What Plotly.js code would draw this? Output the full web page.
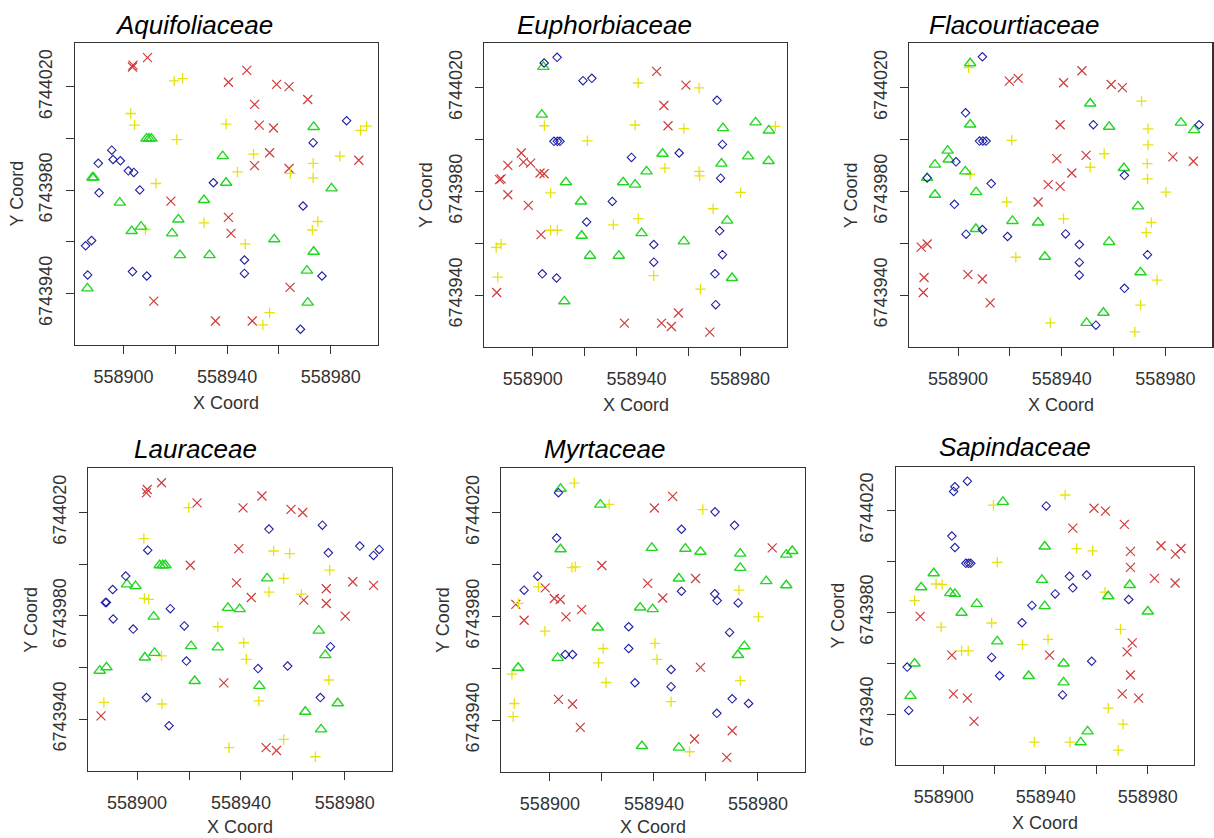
<!DOCTYPE html>
<html>
<head>
<meta charset="utf-8">
<script src="https://cdn.plot.ly/plotly-3.0.1.min.js"></script>
<style>html,body{margin:0;padding:0;background:#fff;}#chart{width:1214px;height:838px;}</style>
</head>
<body>
<div id="chart"></div>
<script>
// ---------------- DATA ----------------
const families = ["Aquifoliaceae", "Euphorbiaceae", "Flacourtiaceae", "Lauraceae", "Myrtaceae", "Sapindaceae"];
const xTickVals = [558900, 558920, 558940, 558960, 558980];
const xTickText = ["558900", "", "558940", "", "558980"];
const yTickVals = [6743940, 6743960, 6743980, 6744000, 6744020];
const yTickText = ["6743940", "", "6743980", "", "6744020"];

// Aquifoliaceae
const aqu_red_x = [558903.7, 558903.5, 558909.3, 558940.5, 558947.6, 558959.1, 558963.9, 558971.1, 558950.6, 558952.4, 558957.9, 558956.4, 558950.6, 558963.9, 558990.8, 558918.3, 558940.5, 558941.5, 558964.3, 558911.7, 558935.5, 558949.7];
const aqu_red_y = [6744028.4, 6744027.7, 6744031.3, 6744021.8, 6744026.4, 6744021.0, 6744020.1, 6744015.1, 6744013.2, 6744005.2, 6744004.1, 6743994.5, 6743989.5, 6743988.4, 6743991.6, 6743975.8, 6743969.5, 6743963.3, 6743942.4, 6743937.1, 6743929.4, 6743929.4];
const aqu_yel_x = [558919.6, 558922.8, 558902.8, 558904.3, 558939.6, 558920.6, 558950.2, 558944.0, 558973.2, 558973.2, 558964.4, 558983.5, 558991.5, 558993.8, 558912.5, 558931.1, 558908.5, 558975.0, 558972.9, 558947.0, 558956.4, 558953.8];
const aqu_yel_y = [6744022.3, 6744023.2, 6744009.7, 6744005.2, 6744005.6, 6743999.6, 6743994.0, 6743987.1, 6743990.4, 6743984.8, 6743986.5, 6743993.2, 6744003.2, 6744004.8, 6743982.6, 6743967.4, 6743964.8, 6743967.9, 6743964.6, 6743959.2, 6743932.6, 6743927.9];
const aqu_grn_x = [558973.4, 558908.9, 558909.9, 558910.8, 558938.3, 558939.6, 558888.0, 558888.5, 558931.1, 558898.6, 558980.3, 558921.2, 558906.8, 558903.2, 558918.8, 558958.2, 558921.8, 558933.2, 558973.4, 558970.8, 558886.1, 558971.1];
const aqu_grn_y = [6744004.5, 6744000.0, 6744000.0, 6744000.0, 6743993.2, 6743982.9, 6743984.9, 6743984.9, 6743976.2, 6743975.2, 6743980.7, 6743968.7, 6743965.9, 6743964.2, 6743963.3, 6743961.0, 6743954.9, 6743954.9, 6743956.2, 6743948.9, 6743942.0, 6743936.5];
const aqu_blu_x = [558986.1, 558973.2, 558895.5, 558896.0, 558898.8, 558890.3, 558901.9, 558904.0, 558934.7, 558906.3, 558890.6, 558969.3, 558885.4, 558887.7, 558946.7, 558886.2, 558903.5, 558909.0, 558946.7, 558976.6, 558968.3];
const aqu_blu_y = [6744006.9, 6743998.4, 6743995.5, 6743991.9, 6743991.4, 6743990.4, 6743987.5, 6743986.9, 6743982.9, 6743980.1, 6743979.0, 6743973.9, 6743958.5, 6743960.5, 6743953.0, 6743947.2, 6743948.5, 6743946.8, 6743947.8, 6743946.8, 6743926.2];

// Euphorbiaceae
const eup_red_x = [558947.8, 558959.1, 558950.6, 558952.2, 558895.6, 558890.4, 558896.4, 558899.2, 558902.8, 558904.4, 558887.8, 558887.2, 558890.4, 558898.3, 558903.2, 558886.1, 558935.4, 558949.7, 558953.5, 558956.2, 558968.3];
const eup_red_y = [6744026.3, 6744021.0, 6744013.1, 6744005.3, 6743994.8, 6743990.0, 6743991.3, 6743990.9, 6743987.1, 6743986.8, 6743984.8, 6743984.5, 6743978.7, 6743974.6, 6743963.3, 6743941.0, 6743929.2, 6743929.2, 6743927.9, 6743933.1, 6743925.7];
const eup_yel_x = [558940.7, 558964.2, 558904.5, 558939.5, 558958.3, 558993.6, 558921.1, 558951.0, 558964.2, 558964.4, 558906.9, 558980.2, 558969.6, 558940.7, 558931.1, 558906.9, 558909.5, 558885.9, 558887.8, 558886.5, 558946.7, 558964.7];
const eup_yel_y = [6744021.8, 6744019.9, 6744005.3, 6744005.6, 6744004.2, 6744005.1, 6743999.5, 6743989.0, 6743987.7, 6743986.0, 6743979.4, 6743979.6, 6743973.3, 6743969.5, 6743967.1, 6743965.0, 6743965.0, 6743958.4, 6743959.7, 6743946.9, 6743947.5, 6743942.3];
const eup_grn_x = [558904.1, 558903.5, 558986.0, 558973.4, 558991.1, 558950.1, 558983.1, 558972.8, 558991.0, 558943.9, 558912.8, 558934.9, 558939.5, 558918.6, 558975.0, 558918.9, 558942.0, 558958.3, 558922.1, 558933.2, 558976.9, 558912.2];
const eup_grn_y = [6744028.0, 6744009.6, 6744006.6, 6744004.4, 6744003.5, 6743994.5, 6743993.5, 6743990.7, 6743991.7, 6743987.7, 6743983.5, 6743983.5, 6743982.6, 6743976.1, 6743968.7, 6743962.9, 6743963.9, 6743960.7, 6743955.2, 6743955.2, 6743946.6, 6743937.6];
const eup_blu_x = [558904.4, 558909.4, 558919.4, 558922.8, 558971.1, 558908.2, 558909.5, 558910.5, 558938.1, 558956.5, 558973.2, 558972.5, 558930.7, 558920.8, 558972.1, 558946.7, 558973.2, 558946.7, 558903.7, 558909.2, 558970.3, 558970.6];
const eup_blu_y = [6744029.5, 6744031.7, 6744022.7, 6744023.6, 6744015.1, 6743999.3, 6743999.3, 6743999.3, 6743993.1, 6743994.8, 6743998.1, 6743985.1, 6743976.1, 6743968.2, 6743964.8, 6743959.5, 6743955.6, 6743952.7, 6743948.2, 6743946.6, 6743948.2, 6743936.3];

// Flacourtiaceae
const fla_red_x = [558947.8, 558919.8, 558923.2, 558940.7, 558959.1, 558963.4, 558939.4, 558949.4, 558938.1, 558943.9, 558934.8, 558939.4, 558930.9, 558982.9, 558990.8, 558885.8, 558888.1, 558886.9, 558886.6, 558903.8, 558909.4, 558912.4];
const fla_red_y = [6744026.5, 6744022.5, 6744023.6, 6744021.9, 6744021.2, 6744020.0, 6744005.7, 6743993.9, 6743992.6, 6743987.1, 6743982.6, 6743981.9, 6743975.9, 6743993.3, 6743991.6, 6743958.5, 6743959.7, 6743946.8, 6743941.0, 6743947.9, 6743946.2, 6743937.0];
const fla_yel_x = [558904.1, 558970.8, 558973.3, 558973.3, 558920.7, 558956.4, 558951.0, 558973.0, 558973.1, 558904.7, 558980.2, 558918.8, 558940.7, 558974.6, 558972.6, 558922.3, 558976.8, 558970.4, 558935.6, 558968.2];
const fla_yel_y = [6744027.7, 6744014.8, 6744004.1, 6743997.9, 6743999.7, 6743994.5, 6743989.3, 6743990.7, 6743984.8, 6743986.5, 6743979.7, 6743975.9, 6743969.4, 6743968.0, 6743964.1, 6743954.6, 6743945.8, 6743936.1, 6743929.3, 6743925.8];
const fla_grn_x = [558904.7, 558951.0, 558904.7, 558958.3, 558986.0, 558991.1, 558896.0, 558896.4, 558891.1, 558902.8, 558964.0, 558888.1, 558907.0, 558891.1, 558969.4, 558921.0, 558930.9, 558906.9, 558958.3, 558933.5, 558970.4, 558956.1, 558949.6];
const fla_grn_y = [6744029.4, 6744013.9, 6744005.8, 6744004.9, 6744006.5, 6744003.6, 6743995.7, 6743992.3, 6743990.3, 6743987.7, 6743989.0, 6743985.2, 6743979.7, 6743978.7, 6743974.2, 6743968.6, 6743968.0, 6743965.5, 6743960.5, 6743954.8, 6743948.8, 6743933.2, 6743929.3];
const fla_blu_x = [558909.4, 558902.9, 558952.2, 558993.0, 558908.3, 558909.6, 558910.8, 558899.2, 558888.1, 558964.2, 558912.8, 558898.6, 558903.1, 558909.4, 558919.1, 558941.5, 558946.8, 558973.1, 558946.8, 558946.8, 558964.2, 558953.2];
const fla_blu_y = [6744031.9, 6744010.3, 6744005.7, 6744005.7, 6743999.4, 6743999.4, 6743999.4, 6743991.4, 6743985.2, 6743986.2, 6743983.0, 6743975.0, 6743963.5, 6743965.3, 6743962.6, 6743963.6, 6743959.5, 6743955.6, 6743952.6, 6743947.7, 6743942.6, 6743928.4];

// Lauraceae
const lau_red_x = [558903.9, 558903.6, 558909.4, 558923.1, 558940.8, 558948.1, 558959.3, 558963.8, 558939.2, 558920.5, 558938.3, 558944.0, 558964.2, 558972.9, 558972.9, 558983.1, 558991.1, 558980.2, 558933.4, 558886.1, 558949.7, 558953.7];
const lau_red_y = [6744028.9, 6744027.6, 6744031.5, 6744023.7, 6744021.8, 6744026.4, 6744021.2, 6744020.0, 6744006.0, 6743999.6, 6743992.8, 6743987.1, 6743986.1, 6743990.5, 6743984.8, 6743993.2, 6743991.8, 6743979.9, 6743954.1, 6743941.3, 6743929.0, 6743927.9];
const lau_yel_x = [558919.9, 558902.6, 558952.6, 558958.8, 558974.2, 558956.5, 558950.8, 558963.3, 558902.8, 558904.5, 558931.1, 558941.1, 558942.1, 558909.4, 558973.9, 558946.9, 558909.6, 558887.2, 558956.5, 558935.4, 558968.7];
const lau_yel_y = [6744021.9, 6744009.9, 6744005.1, 6744004.1, 6743997.7, 6743994.5, 6743989.2, 6743988.4, 6743986.8, 6743986.4, 6743975.8, 6743969.6, 6743963.2, 6743964.5, 6743955.2, 6743947.1, 6743945.9, 6743946.5, 6743932.2, 6743929.0, 6743925.5];
const lau_grn_x = [558908.7, 558909.9, 558910.9, 558896.1, 558899.4, 558950.1, 558935.0, 558939.5, 558906.4, 558970.0, 558920.8, 558931.1, 558972.5, 558903.0, 558906.7, 558885.6, 558888.2, 558922.2, 558947.1, 558977.3, 558964.8, 558970.9];
const lau_grn_y = [6743999.6, 6743999.6, 6743999.6, 6743992.2, 6743991.5, 6743994.5, 6743983.1, 6743982.6, 6743979.7, 6743974.3, 6743968.3, 6743967.8, 6743964.8, 6743963.9, 6743965.7, 6743958.8, 6743960.1, 6743954.8, 6743952.9, 6743946.2, 6743942.9, 6743936.1];
const lau_blu_x = [558971.4, 558950.8, 558904.1, 558973.7, 558985.8, 558991.1, 558993.3, 558895.6, 558890.6, 558887.8, 558888.2, 558912.8, 558890.8, 558898.5, 558918.2, 558974.5, 558919.0, 558946.6, 558958.0, 558903.6, 558970.6, 558912.3];
const lau_blu_y = [6744015.1, 6744013.6, 6744005.4, 6744004.4, 6744007.0, 6744003.4, 6744005.7, 6743995.4, 6743990.2, 6743985.2, 6743985.2, 6743982.8, 6743978.8, 6743974.9, 6743976.1, 6743968.1, 6743962.5, 6743959.6, 6743960.6, 6743948.4, 6743948.4, 6743937.5];

// Myrtaceae
const myr_red_x = [558947.2, 558940.2, 558920.0, 558985.5, 558937.6, 558956.0, 558943.4, 558898.2, 558901.7, 558904.0, 558886.9, 558890.1, 558906.2, 558912.2, 558957.9, 558903.3, 558908.7, 558911.7, 558970.1, 558955.6, 558968.0];
const myr_red_y = [6744026.3, 6744021.8, 6743999.6, 6744006.4, 6743992.7, 6743994.6, 6743987.1, 6743991.0, 6743986.9, 6743986.5, 6743984.6, 6743978.5, 6743979.8, 6743982.6, 6743960.3, 6743948.0, 6743946.2, 6743937.2, 6743935.9, 6743932.7, 6743925.6];
const myr_yel_x = [558909.4, 558922.8, 558958.8, 558908.5, 558909.8, 558895.6, 558887.9, 558972.7, 558980.2, 558898.1, 558940.4, 558920.5, 558941.2, 558918.7, 558921.6, 558973.2, 558885.4, 558886.3, 558885.9, 558946.6, 558953.7];
const myr_yel_y = [6744031.4, 6744023.2, 6744021.2, 6743998.8, 6743999.1, 6743991.4, 6743985.0, 6743990.1, 6743979.8, 6743974.3, 6743969.6, 6743967.6, 6743963.4, 6743962.1, 6743954.5, 6743955.2, 6743957.7, 6743946.4, 6743941.3, 6743947.1, 6743927.8];
const myr_grn_x = [558904.1, 558919.4, 558904.1, 558939.2, 558952.1, 558957.9, 558973.2, 558973.2, 558990.9, 558993.2, 558949.6, 558983.2, 558990.9, 558934.7, 558939.5, 558918.4, 558974.8, 558972.3, 558903.0, 558887.8, 558935.4, 558949.6];
const myr_grn_y = [6744029.2, 6744023.1, 6744005.9, 6744006.4, 6744006.1, 6744004.9, 6744004.2, 6743998.7, 6744003.8, 6744005.2, 6743994.6, 6743993.6, 6743992.0, 6743983.4, 6743982.8, 6743975.7, 6743968.5, 6743965.1, 6743964.0, 6743960.2, 6743930.0, 6743929.4];
const myr_blu_x = [558903.3, 558963.5, 558971.0, 558950.6, 558902.6, 558895.3, 558890.1, 558950.6, 558963.4, 558964.3, 558972.4, 558930.3, 558969.1, 558930.3, 558905.9, 558908.7, 558946.6, 558932.7, 558946.6, 558970.1, 558976.4, 558964.2];
const myr_blu_y = [6744027.7, 6744020.3, 6744015.1, 6744013.6, 6744010.2, 6743995.5, 6743990.1, 6743989.7, 6743988.7, 6743986.1, 6743985.2, 6743976.0, 6743973.8, 6743967.6, 6743965.3, 6743965.3, 6743959.5, 6743954.4, 6743952.9, 6743948.2, 6743946.4, 6743942.6];

// Sapindaceae
const sap_red_x = [558958.9, 558963.4, 558970.8, 558950.6, 558985.2, 558990.8, 558993.0, 558973.2, 558973.2, 558982.6, 558990.7, 558890.8, 558903.2, 558941.5, 558973.9, 558971.9, 558973.2, 558970.0, 558976.4, 558903.8, 558909.3, 558911.9];
const sap_red_y = [6744020.8, 6744019.7, 6744014.5, 6744013.0, 6744006.1, 6744002.8, 6744005.0, 6744003.9, 6743997.6, 6743993.3, 6743991.5, 6743978.4, 6743963.2, 6743963.2, 6743968.0, 6743964.5, 6743955.4, 6743948.0, 6743946.3, 6743948.0, 6743946.3, 6743937.2];
const sap_yel_x = [558947.6, 558919.5, 558952.1, 558958.4, 558921.0, 558897.0, 558899.4, 558888.6, 558963.2, 558918.8, 558899.0, 558969.3, 558940.9, 558930.9, 558907.0, 558909.6, 558964.5, 558970.3, 558935.5, 558949.5, 558968.4];
const sap_yel_y = [6744026.0, 6744022.0, 6744005.0, 6744004.1, 6743999.6, 6743991.1, 6743990.9, 6743984.6, 6743987.9, 6743975.8, 6743974.2, 6743973.3, 6743969.4, 6743967.3, 6743964.9, 6743964.9, 6743942.4, 6743936.1, 6743929.1, 6743929.1, 6743925.9];
const sap_grn_x = [558923.2, 558939.6, 558896.1, 558891.2, 558902.6, 558904.4, 558938.5, 558972.9, 558964.5, 558913.0, 558939.6, 558907.0, 558980.0, 558921.0, 558888.6, 558947.0, 558933.3, 558947.0, 558887.0, 558956.4, 558953.7];
const sap_grn_y = [6744023.3, 6744005.8, 6743995.3, 6743989.8, 6743987.5, 6743987.2, 6743992.7, 6743990.7, 6743986.3, 6743983.3, 6743982.4, 6743979.8, 6743980.3, 6743968.6, 6743959.9, 6743959.9, 6743955.0, 6743952.5, 6743947.2, 6743933.3, 6743929.0];
const sap_blu_x = [558909.3, 558904.4, 558903.9, 558940.2, 558903.2, 558904.4, 558908.7, 558909.7, 558910.6, 558949.3, 558956.0, 558950.6, 558943.7, 558934.6, 558972.5, 558930.7, 558918.8, 558921.9, 558958.0, 558946.6, 558885.7, 558886.3];
const sap_blu_y = [6744031.4, 6744029.2, 6744027.4, 6744021.7, 6744009.9, 6744005.4, 6743999.2, 6743999.2, 6743999.2, 6743994.1, 6743994.6, 6743989.6, 6743987.2, 6743982.7, 6743985.0, 6743975.9, 6743962.3, 6743955.1, 6743960.8, 6743947.6, 6743958.5, 6743941.5];

// ---------------- BUILD ----------------
const W = 1214, H = 838;
// plot boxes in page pixels: [left, top, right, bottom]
const boxes = [
  [74.7, 42.7, 377.7, 345.0],
  [484.0, 43.3, 787.0, 346.7],
  [909.3, 43.3, 1212.3, 346.7],
  [88.3, 468.3, 391.7, 770.7],
  [501.0, 468.3, 805.0, 771.7],
  [895.7, 466.7, 1194.0, 765.0]
];
const titleCenters = [[194, 25], [604, 25], [1014, 25], [195, 449], [604, 449], [1015, 447]];

const groups = [
  [aqu_red_x, aqu_red_y, aqu_yel_x, aqu_yel_y, aqu_grn_x, aqu_grn_y, aqu_blu_x, aqu_blu_y],
  [eup_red_x, eup_red_y, eup_yel_x, eup_yel_y, eup_grn_x, eup_grn_y, eup_blu_x, eup_blu_y],
  [fla_red_x, fla_red_y, fla_yel_x, fla_yel_y, fla_grn_x, fla_grn_y, fla_blu_x, fla_blu_y],
  [lau_red_x, lau_red_y, lau_yel_x, lau_yel_y, lau_grn_x, lau_grn_y, lau_blu_x, lau_blu_y],
  [myr_red_x, myr_red_y, myr_yel_x, myr_yel_y, myr_grn_x, myr_grn_y, myr_blu_x, myr_blu_y],
  [sap_red_x, sap_red_y, sap_yel_x, sap_yel_y, sap_grn_x, sap_grn_y, sap_blu_x, sap_blu_y]
];
const styles = [
  {symbol: "x-thin-open", size: 9, color: "#cf3c3c", width: 1.2},
  {symbol: "cross-thin-open", size: 7.5, color: "#e6e410", width: 1.3},
  {symbol: "triangle-up-open", size: 10, color: "#22d622", width: 1.4},
  {symbol: "diamond-open", size: 6.5, color: "#2020a6", width: 1.1}
];

const FONT = "'Liberation Sans', Arial, 'DejaVu Sans', sans-serif";
const data = [];
const layout = {
  width: W, height: H,
  margin: {l: 0, r: 0, t: 0, b: 0},
  paper_bgcolor: "#ffffff", plot_bgcolor: "#ffffff",
  showlegend: false,
  font: {family: FONT, color: "#333333", size: 18},
  annotations: []
};

groups.forEach((g, i) => {
  const n = i + 1;
  const xa = "x" + (n === 1 ? "" : n), ya = "y" + (n === 1 ? "" : n);
  for (let k = 0; k < 4; k++) {
    const s = styles[k];
    data.push({
      type: "scatter", mode: "markers", xaxis: xa, yaxis: ya,
      x: g[2 * k], y: g[2 * k + 1], hoverinfo: "skip",
      marker: {symbol: s.symbol, size: s.size, color: s.color, line: {color: s.color, width: s.width}}
    });
  }
  const b = boxes[i];
  const axCommon = {
    showgrid: false, zeroline: false, showline: true, mirror: true,
    linecolor: "#333333", linewidth: 1.2,
    ticks: "outside", ticklen: 8, tickwidth: 1, tickcolor: "#333333",
    tickfont: {family: FONT, size: 18, color: "#333333"},
    tickmode: "array", fixedrange: true
  };
  layout["xaxis" + (n === 1 ? "" : n)] = Object.assign({}, axCommon, {
    domain: [b[0] / W, b[2] / W], anchor: ya,
    range: [558881.2, 558998.1],
    tickvals: xTickVals, ticktext: xTickText, ticklabelstandoff: 7
  });
  layout["yaxis" + (n === 1 ? "" : n)] = Object.assign({}, axCommon, {
    domain: [1 - b[3] / H, 1 - b[1] / H], anchor: xa,
    range: [6743920.1, 6744037.1],
    tickvals: yTickVals, ticktext: yTickText, tickangle: -90, ticklabelstandoff: 6
  });
  // title
  layout.annotations.push({
    text: "<i>" + families[i] + "</i>", xref: "paper", yref: "paper",
    x: titleCenters[i][0] / W, y: 1 - titleCenters[i][1] / H,
    xanchor: "center", yanchor: "middle", showarrow: false,
    font: {family: FONT, size: 26, color: "#000000"}
  });
  // X Coord
  layout.annotations.push({
    text: "X Coord", xref: "paper", yref: "paper",
    x: (b[0] + b[2]) / 2 / W, y: 1 - Math.min(b[3] + 58, H - 11) / H,
    xanchor: "center", yanchor: "middle", showarrow: false,
    font: {family: FONT, size: 18, color: "#333333"}
  });
  // Y Coord
  layout.annotations.push({
    text: "Y Coord", xref: "paper", yref: "paper", textangle: -90,
    x: (b[0] - 58) / W, y: 1 - (b[1] + b[3]) / 2 / H,
    xanchor: "center", yanchor: "middle", showarrow: false,
    font: {family: FONT, size: 18, color: "#333333"}
  });
});

Plotly.newPlot("chart", data, layout, {displayModeBar: false, staticPlot: true});
</script>
</body>
</html>
